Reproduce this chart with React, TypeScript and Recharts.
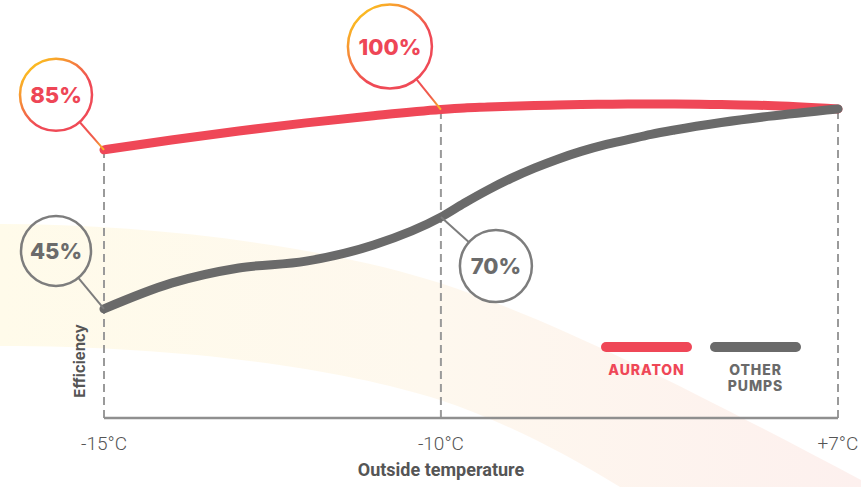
import { LineChart, Line, XAxis, YAxis, ReferenceLine, ReferenceDot, Legend, Label } from 'recharts'

// illustrative chart: efficiency vs outside temperature
const temperatures = [-15, -14, -13, -12, -11, -10, -9, -8, -7, -6, -5, -4, -3, -2, -1, 0, 2, 4, 7]
const auraton = [86.5, 89.7, 92.6, 95.2, 97.5, 99.5, 100.0, 100.3, 100.6, 100.8, 100.95, 101.1, 101.2, 101.3, 101.3, 101.3, 101.1, 100.8, 99.7]
const otherPumps = [35.2, 43.5, 48.4, 50.6, 55.8, 64.8, 69.3, 73.5, 77.3, 80.6, 83.5, 86.0, 88.1, 89.8, 91.5, 92.9, 95.3, 97.3, 99.7]

const tickTemps = [-15, -10, 7]
const tickLabels = ['-15°C', '-10°C', '+7°C']

const calloutTemps = [-15, -10]
const auratonCallouts = ['85%', '100%']
const otherCallouts = ['45%', '70%']

const RED = '#ef4757'
const GRAY = '#6a6a6a'
const RING_GRAY = '#7d7d7d'

// the axis is not to scale: -10°C sits a bit left of the middle
const MID = 0.459
const toAxis = (t: number) => (t <= -10 ? ((t + 15) / 5) * MID : MID + ((t + 10) / 17) * (1 - MID))

const data = temperatures.map((t, i) => ({ x: toAxis(t), auraton: auraton[i], other: otherPumps[i] }))

const CALLOUT_LAYOUT: Record<string, { dx: number; dy: number; r: number }> = {
  'auraton:-15': { dx: -48, dy: -55, r: 36 },
  'auraton:-10': { dx: -51, dy: -63, r: 42 },
  'other:-15': { dx: -48, dy: -58, r: 35 },
  'other:-10': { dx: 55, dy: 49, r: 36 },
}

function Callout({ cx, cy, text, dx, dy, r, warm }: any) {
  const ccx = cx + dx
  const ccy = cy + dy
  const len = Math.hypot(dx, dy)
  const sx = ccx - (dx / len) * r
  const sy = ccy - (dy / len) * r
  return (
    <g>
      <line
        x1={sx}
        y1={sy}
        x2={cx}
        y2={cy}
        stroke={warm ? 'url(#leaderWarm)' : RING_GRAY}
        strokeWidth={2}
      />
      <circle cx={ccx} cy={ccy} r={r} fill="none" stroke={warm ? 'url(#ringWarm)' : RING_GRAY} strokeWidth={2.5} />
      <text
        x={ccx}
        y={ccy}
        textAnchor="middle"
        dominantBaseline="central"
        fill={warm ? '#ee4656' : '#6b6b6b'}
        style={{ fontFamily: 'Inter', fontWeight: 800, fontSize: 22 }}
      >
        {text}
      </text>
    </g>
  )
}

function LegendContent({ payload }: any) {
  return (
    <div style={{ display: 'flex', gap: 18 }}>
      {(payload || []).map((p: any) => (
        <div key={p.value} style={{ width: 91, textAlign: 'center' }}>
          <div style={{ height: 10, borderRadius: 5, background: p.color }} />
          <div
            style={{
              marginTop: 10,
              color: p.color,
              fontFamily: 'Inter',
              fontWeight: 800,
              fontSize: 14,
              letterSpacing: 0.9,
              lineHeight: '16px',
            }}
          >
            {String(p.value)
              .toUpperCase()
              .split(' ')
              .map((w) => (
                <div key={w}>{w}</div>
              ))}
          </div>
        </div>
      ))}
    </div>
  )
}

function EfficiencyLabel({ viewBox }: any) {
  const x = viewBox.x - 25
  const y = viewBox.y - 57
  return (
    <text
      transform={`translate(${x},${y}) rotate(-90)`}
      textAnchor="middle"
      dominantBaseline="central"
      fill="#555"
      style={{ fontFamily: 'Inter', fontWeight: 700, fontSize: 15 }}
    >
      Efficiency
    </text>
  )
}

export default function App() {
  const idx = (t: number) => temperatures.indexOf(t)
  return (
    <div style={{ position: 'absolute', left: 0, top: 0, width: 861, height: 487, background: '#fff' }}>
      <svg width={861} height={487} style={{ position: 'absolute', left: 0, top: 0 }}>
        <defs>
          <linearGradient id="band" x1="0" y1="0" x2="1" y2="0">
            <stop offset="0" stopColor="#fffbea" />
            <stop offset="0.5" stopColor="#fef8ee" />
            <stop offset="1" stopColor="#fdf0ee" />
          </linearGradient>
        </defs>
        <path
          d="M0,224 C150,224 320,245 440,283 C560,322 700,395 861,480 L861,487 L620,487 C560,450 500,420 440,400 C340,368 180,346 0,346 Z"
          fill="url(#band)"
        />
      </svg>
      <div style={{ position: 'absolute', left: 0, top: 0 }}>
        <LineChart
          width={861}
          height={487}
          data={data}
          margin={{ top: 77, right: 23, bottom: 0, left: 104 }}
          style={{ fontFamily: 'Roboto' }}
        >
          <defs>
            <linearGradient id="ringWarm" x1="0.1" y1="0" x2="0.6" y2="0.6">
              <stop offset="0" stopColor="#fdd017" />
              <stop offset="1" stopColor="#ef4a56" />
            </linearGradient>
            <linearGradient id="leaderWarm" x1="0" y1="0" x2="1" y2="1">
              <stop offset="0" stopColor="#ef4a56" />
              <stop offset="0.6" stopColor="#f05f4a" />
              <stop offset="1" stopColor="#fbbf1f" />
            </linearGradient>
          </defs>
          <XAxis
            type="number"
            dataKey="x"
            domain={[0, 1]}
            ticks={tickTemps.map(toAxis)}
            interval={0}
            tickFormatter={(v: number) => tickLabels[tickTemps.findIndex((t) => Math.abs(toAxis(t) - v) < 1e-6)]}
            axisLine={{ stroke: '#8f8f8f', strokeWidth: 2.5 }}
            tickLine={false}
            tick={{ fill: '#555', fontSize: 19, fontFamily: 'Roboto', fontWeight: 300 }}
            tickMargin={13}
            height={69}
          >
            <Label
              value="Outside temperature"
              position="insideBottom"
              offset={11}
              dx={-30}
              fill="#555"
              style={{ fontFamily: 'Roboto', fontWeight: 700, fontSize: 18 }}
            />
            <Label content={EfficiencyLabel} />
          </XAxis>
          <YAxis domain={[0, 110]} width={0} axisLine={false} tickLine={false} tick={false} />
          {tickTemps.map((t) => (
            <ReferenceLine
              key={t}
              segment={[
                { x: toAxis(t), y: 0 },
                { x: toAxis(t), y: auraton[idx(t)] },
              ]}
              stroke="#9a9a9a"
              strokeWidth={2}
              strokeDasharray="8 5"
            />
          ))}
          <Legend
            layout="horizontal"
            verticalAlign="middle"
            align="center"
            content={LegendContent}
            wrapperStyle={{ left: 601, top: 342, width: 210, height: 60 }}
          />
          <Line
            type="monotone"
            dataKey="auraton"
            name="Auraton"
            stroke={RED}
            strokeWidth={9}
            strokeLinecap="round"
            dot={false}
            activeDot={false}
            isAnimationActive={false}
          />
          <Line
            type="monotone"
            dataKey="other"
            name="Other pumps"
            stroke={GRAY}
            strokeWidth={9}
            strokeLinecap="round"
            dot={false}
            activeDot={false}
            isAnimationActive={false}
          />
          {calloutTemps.map((t, i) => (
            <ReferenceDot
              key={'a' + t}
              x={toAxis(t)}
              y={auraton[idx(t)]}
              shape={(p: any) => <Callout cx={p.cx} cy={p.cy} text={auratonCallouts[i]} warm {...CALLOUT_LAYOUT['auraton:' + t]} />}
            />
          ))}
          {calloutTemps.map((t, i) => (
            <ReferenceDot
              key={'o' + t}
              x={toAxis(t)}
              y={otherPumps[idx(t)]}
              shape={(p: any) => <Callout cx={p.cx} cy={p.cy} text={otherCallouts[i]} {...CALLOUT_LAYOUT['other:' + t]} />}
            />
          ))}
        </LineChart>
      </div>
    </div>
  )
}
